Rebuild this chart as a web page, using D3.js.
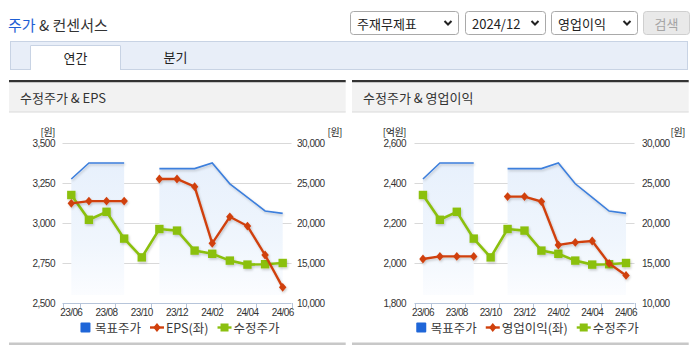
<!DOCTYPE html>
<html>
<head>
<meta charset="utf-8">
<script src="https://cdn.jsdelivr.net/npm/d3@7"></script>
<style>
  html, body { margin: 0; padding: 0; background: #fff; }
  svg { display: block; font-family: "Noto Sans CJK KR", "Noto Sans", sans-serif; }
</style>
</head>
<body>
<svg id="page" width="695" height="349"></svg>
<script>
// Monthly categories (2023/06 – 2024/06)
const months = ["23/06","23/07","23/08","23/09","23/10","23/11","23/12","24/01","24/02","24/03","24/04","24/05","24/06"];
const tickMonths = ["23/06","23/08","23/10","23/12","24/02","24/04","24/06"];

// 목표주가 (원), null = no consensus that month
const targetPrice = [25500, 27500, 27500, 27500, null, 26800, 26800, 26800, 27500, 24900, 23200, 21500, 21200];
// 수정주가 (원)
const adjPrice = [23500, 20400, 21400, 18050, 15700, 19250, 19050, 16550, 16150, 15300, 14800, 14850, 15000];
// EPS (원)
const eps = [3123, 3137, 3137, 3137, null, 3275, 3275, 3227, 2873, 3039, 2981, 2800, 2598];
// 영업이익 (억원)
const opProfit = [2020, 2033, 2033, 2033, null, 2332, 2332, 2307, 2090, 2103, 2110, 1998, 1938];

const epsTicks = [2500, 2750, 3000, 3250, 3500];
const profitTicks = [1800, 2000, 2200, 2400, 2600];
const priceTicks = [10000, 15000, 20000, 25000, 30000];

const C_BLUE = "#3d7fdc", C_BLUE_KEY = "#1f66d8", C_RED = "#d0400c", C_GREEN = "#8bc010";
const NUM_FONT = "'Liberation Sans', Arial, sans-serif";

const svg = d3.select("#page");
const defs = svg.append("defs");

const shadow = defs.append("filter").attr("id", "lineShadow")
  .attr("x", "-10%").attr("y", "-20%").attr("width", "120%").attr("height", "140%");
shadow.append("feDropShadow").attr("dx", 1).attr("dy", 1.5).attr("stdDeviation", 0.9)
  .attr("flood-color", "#000").attr("flood-opacity", 0.2);

const grad = defs.append("linearGradient").attr("id", "targetFill")
  .attr("gradientUnits", "userSpaceOnUse").attr("x1", 0).attr("y1", 160).attr("x2", 0).attr("y2", 300);
grad.append("stop").attr("offset", 0).attr("stop-color", "#e7f0fc");
grad.append("stop").attr("offset", 0.6).attr("stop-color", "#f0f6fd");
grad.append("stop").attr("offset", 1).attr("stop-color", "#fcfdff");

// ---------- page header ----------
const head = svg.append("text").attr("x", 8).attr("y", 24)
  .attr("dominant-baseline", "central").style("font-size", "15px");
head.append("tspan").attr("fill", "#1f5fd4").text("주가");
head.append("tspan").attr("fill", "#333").text(" & 컨센서스");

const controls = [
  { label: "주재무제표", x: 350, w: 108 },
  { label: "2024/12", x: 465, w: 80 },
  { label: "영업이익", x: 551, w: 86 }
];
controls.forEach(c => {
  svg.append("rect").attr("x", c.x + 0.5).attr("y", 11.5).attr("width", c.w).attr("height", 23)
    .attr("rx", 3).attr("fill", "#fff").attr("stroke", "#a9a9a9");
  svg.append("text").attr("x", c.x + 7).attr("y", 23.5).attr("dominant-baseline", "central")
    .attr("fill", "#222").style("font-size", "13px").text(c.label);
  const cx = c.x + c.w - 10;
  svg.append("path").attr("d", `M${cx - 3.5},21 L${cx},24.5 L${cx + 3.5},21`)
    .attr("fill", "none").attr("stroke", "#222").attr("stroke-width", 2);
});
svg.append("rect").attr("x", 643.5).attr("y", 11.5).attr("width", 46).attr("height", 23)
  .attr("rx", 3).attr("fill", "#e9e9e9").attr("stroke", "#cfcfcf");
svg.append("text").attr("x", 666.5).attr("y", 23.5).attr("text-anchor", "middle")
  .attr("dominant-baseline", "central").attr("fill", "#a5a5a5").style("font-size", "13px").text("검색");

// ---------- tabs ----------
svg.append("rect").attr("x", 10.5).attr("y", 41.5).attr("width", 677).attr("height", 28)
  .attr("fill", "#e8eef8").attr("stroke", "#c8d3e4");
svg.append("rect").attr("x", 30).attr("y", 45).attr("width", 91).attr("height", 25).attr("fill", "#fff");
svg.append("path").attr("d", "M30.5,70 L30.5,45.5 L120.5,45.5 L120.5,70")
  .attr("fill", "none").attr("stroke", "#c8d3e4");
svg.append("text").attr("x", 75.5).attr("y", 57.5).attr("text-anchor", "middle")
  .attr("dominant-baseline", "central").attr("fill", "#222").style("font-size", "13px").text("연간");
svg.append("text").attr("x", 175.5).attr("y", 56.5).attr("text-anchor", "middle")
  .attr("dominant-baseline", "central").attr("fill", "#222").style("font-size", "13px").text("분기");

// ---------- chart panels ----------
const diamond = {
  draw(ctx, size) {
    const h = Math.sqrt(size) * 0.62, w = h * 0.85;
    ctx.moveTo(0, -h); ctx.lineTo(w, 0); ctx.lineTo(0, h); ctx.lineTo(-w, 0); ctx.closePath();
  }
};

function drawPanel(cfg) {
  const g = svg.append("g");
  const px0 = cfg.panelX, pw = 336.7;
  const yTop = 143, yBot = 303;

  g.append("rect").attr("x", px0).attr("y", 80).attr("width", pw).attr("height", 2.5).attr("fill", "#333");
  g.append("rect").attr("x", px0).attr("y", 82.5).attr("width", pw).attr("height", 29.5).attr("fill", "#f2f2f2");
  g.append("rect").attr("x", px0).attr("y", 111.5).attr("width", pw).attr("height", 1).attr("fill", "#dadada");
  g.append("text").attr("x", px0 + 11).attr("y", 97.5).attr("dominant-baseline", "central")
    .attr("fill", "#333").style("font-size", "13px").text(cfg.title);
  g.append("rect").attr("x", px0).attr("y", 342.5).attr("width", pw).attr("height", 2.5).attr("fill", "#c8c8c8");

  const x = d3.scaleBand().domain(months).range([cfg.x0, cfg.x1]);
  const cx = m => x(m) + x.bandwidth() / 2;
  const yL = d3.scaleLinear().domain(d3.extent(cfg.leftTicks)).range([yBot, yTop]);
  const yR = d3.scaleLinear().domain(d3.extent(priceTicks)).range([yBot, yTop]);

  // gridlines
  g.selectAll("line.grid").data(cfg.leftTicks.slice(1)).join("line")
    .attr("x1", cfg.x0).attr("x2", cfg.x1)
    .attr("y1", d => Math.round(yL(d)) + 0.5).attr("y2", d => Math.round(yL(d)) + 0.5)
    .attr("stroke", "#d9d9d9");

  // left axis labels
  const ax = g.append("g").attr("transform", `translate(${cfg.leftLabelX},0)`)
    .call(d3.axisLeft(yL).tickValues(cfg.leftTicks).tickSize(0).tickPadding(0).tickFormat(d3.format(",")));
  ax.select(".domain").remove();
  ax.selectAll("text").attr("fill", "#333").style("font-family", NUM_FONT)
    .style("font-size", "10px").style("letter-spacing", "-0.5px");

  const ar = g.append("g").attr("transform", `translate(${cfg.rightLabelX},0)`)
    .call(d3.axisRight(yR).tickValues(priceTicks).tickSize(0).tickPadding(0).tickFormat(d3.format(",")));
  ar.select(".domain").remove();
  ar.selectAll("text").attr("fill", "#333").style("font-family", NUM_FONT)
    .style("font-size", "10px").style("letter-spacing", "-0.5px");

  // units
  g.append("text").attr("x", cfg.leftLabelX).attr("y", 131.5).attr("text-anchor", "end")
    .attr("dominant-baseline", "central").attr("fill", "#222").style("font-size", "10px")
    .style("letter-spacing", "-0.5px").text(cfg.leftUnit);
  g.append("text").attr("x", cfg.rightUnitX).attr("y", 131.5).attr("text-anchor", "end")
    .attr("dominant-baseline", "central").attr("fill", "#222").style("font-size", "10px")
    .style("letter-spacing", "-0.5px").text("[원]");

  // bottom axis
  const ab = g.append("g").attr("transform", `translate(0,${yBot})`)
    .call(d3.axisBottom(x).tickValues(tickMonths).tickSize(0).tickPadding(6));
  ab.select(".domain").attr("stroke", "#b7c5da").attr("d", `M${cfg.x0},0.5H${cfg.x1}`);
  ab.selectAll("text").attr("fill", "#333").style("font-family", NUM_FONT)
    .style("font-size", "10px").style("letter-spacing", "-0.6px");
  const bw = x.bandwidth();
  const edges = [0].concat(d3.range(1, months.length + 1, 2));
  ab.selectAll("line.edge").data(edges).join("line")
    .attr("x1", k => Math.round(cfg.x0 + k * bw) + 0.5).attr("x2", k => Math.round(cfg.x0 + k * bw) + 0.5)
    .attr("y1", 0).attr("y2", 5).attr("stroke", "#b7c5da");

  // target price band
  const tp = months.map((m, i) => ({ m, v: targetPrice[i] }));
  g.append("path").datum(tp)
    .attr("d", d3.area().defined(d => d.v != null).x(d => cx(d.m)).y0(yBot - 8).y1(d => yR(d.v)))
    .attr("fill", "url(#targetFill)");
  g.append("path").datum(tp)
    .attr("d", d3.line().defined(d => d.v != null).x(d => cx(d.m)).y(d => yR(d.v)))
    .attr("fill", "none").attr("stroke", C_BLUE).attr("stroke-width", 1.6)
    .attr("filter", "url(#lineShadow)");

  // adjusted price
  const ap = months.map((m, i) => ({ m, v: adjPrice[i] }));
  const gg = g.append("g").attr("filter", "url(#lineShadow)");
  gg.append("path").datum(ap)
    .attr("d", d3.line().x(d => cx(d.m)).y(d => yR(d.v)))
    .attr("fill", "none").attr("stroke", C_GREEN).attr("stroke-width", 2.6);
  gg.selectAll("rect").data(ap).join("rect")
    .attr("x", d => cx(d.m) - 4.2).attr("y", d => yR(d.v) - 4.2)
    .attr("width", 8.4).attr("height", 8.4).attr("fill", C_GREEN);

  // left-axis series
  const lv = months.map((m, i) => ({ m, v: cfg.leftValues[i] }));
  const rg = g.append("g").attr("filter", "url(#lineShadow)");
  rg.append("path").datum(lv)
    .attr("d", d3.line().defined(d => d.v != null).x(d => cx(d.m)).y(d => yL(d.v)))
    .attr("fill", "none").attr("stroke", C_RED).attr("stroke-width", 2.4);
  rg.selectAll("path.mk").data(lv.filter(d => d.v != null)).join("path").attr("class", "mk")
    .attr("transform", d => `translate(${cx(d.m)},${yL(d.v)})`)
    .attr("d", d3.symbol(diamond, 50)).attr("fill", C_RED);

  // legend
  const lg = g.append("g");
  const items = [
    { kind: "box", color: C_BLUE_KEY, label: "목표주가" },
    { kind: "diamond", color: C_RED, label: cfg.leftName },
    { kind: "square", color: C_GREEN, label: "수정주가" }
  ];
  let cur = 0;
  const ly = 327.5;
  items.forEach((it, i) => {
    const ig = lg.append("g").attr("transform", `translate(${cur},0)`);
    let sw;
    if (it.kind === "box") {
      ig.append("rect").attr("x", 0).attr("y", ly - 5).attr("width", 10).attr("height", 10)
        .attr("rx", 1).attr("fill", it.color);
      sw = 14.5;
    } else {
      ig.append("line").attr("x1", 0).attr("x2", 14).attr("y1", ly).attr("y2", ly)
        .attr("stroke", it.color).attr("stroke-width", 2.4);
      if (it.kind === "diamond") {
        ig.append("path").attr("transform", `translate(7,${ly})`).attr("d", d3.symbol(diamond, 50)).attr("fill", it.color);
      } else {
        ig.append("rect").attr("x", 3).attr("y", ly - 4).attr("width", 8).attr("height", 8).attr("fill", it.color);
      }
      sw = 16;
    }
    const t = ig.append("text").attr("x", sw).attr("y", ly).attr("dominant-baseline", "central")
      .attr("fill", "#3a3a3a").style("font-size", "12.5px").text(it.label);
    cur += sw + t.node().getComputedTextLength() + 9;
  });
  const lw = cur - 9;
  lg.attr("transform", `translate(${(cfg.x0 + cfg.x1) / 2 + 3 - lw / 2},0)`);
}

drawPanel({
  panelX: 9, title: "수정주가 & EPS",
  x0: 62.5, x1: 291.5,
  leftTicks: epsTicks, leftValues: eps, leftUnit: "[원]", leftName: "EPS(좌)",
  leftLabelX: 55, rightLabelX: 297, rightUnitX: 342
});
drawPanel({
  panelX: 352, title: "수정주가 & 영업이익",
  x0: 414.5, x1: 634.5,
  leftTicks: profitTicks, leftValues: opProfit, leftUnit: "[억원]", leftName: "영업이익(좌)",
  leftLabelX: 406, rightLabelX: 642, rightUnitX: 685
});
</script>
</body>
</html>
